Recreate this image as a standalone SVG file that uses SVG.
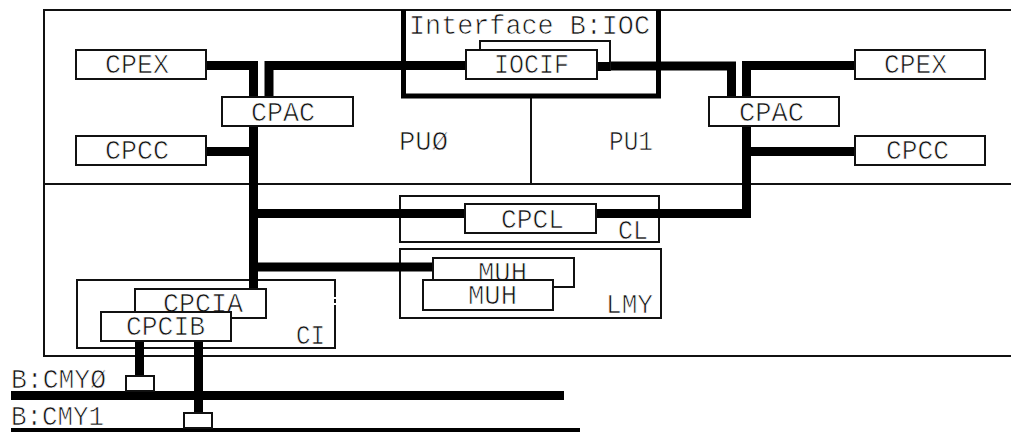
<svg xmlns="http://www.w3.org/2000/svg" width="1011" height="432" viewBox="0 0 1011 432">
<style>
.frame{fill:none;stroke:#111;stroke-width:2}
.box{fill:#fff;stroke:#111;stroke-width:2}
.bus{fill:none;stroke:#000;stroke-width:9;stroke-linejoin:miter}
.thick{fill:none;stroke:#000;stroke-width:5}
text{font-family:"Liberation Mono","DejaVu Sans Mono",monospace;font-size:27px;fill:#111;stroke:#fff;stroke-width:0.7px;paint-order:fill}
</style>
<rect width="1011" height="432" fill="#fff"/>
<g id="frame">
<path class="frame" d="M1012,10 H44 V356 H1012"/>
<path class="frame" d="M44,184 H1012"/>
<path class="frame" d="M531,97 V184"/>
</g>
<g id="interface">
<path class="thick" d="M403.5,10 V96 H658.5 V10"/>
<text x="409" y="34" textLength="241" lengthAdjust="spacingAndGlyphs">Interface B:IOC</text>
</g>
<g id="pu-labels">
<text x="399" y="150" textLength="49" lengthAdjust="spacingAndGlyphs">PUØ</text>
<text x="609" y="150" textLength="44" lengthAdjust="spacingAndGlyphs">PU1</text>
</g>
<g id="cl-group">
<rect class="frame" x="400" y="196" width="259" height="46"/>
<text x="618" y="239" textLength="30" lengthAdjust="spacingAndGlyphs">CL</text>
</g>
<g id="lmy-group">
<rect class="frame" x="400" y="249" width="261" height="69"/>
<text x="606" y="313" textLength="47" lengthAdjust="spacingAndGlyphs">LMY</text>
</g>
<g id="ci-group">
<path class="frame" d="M335,293 V280 H77 V348 H335 V307"/>
<path class="frame" d="M335,293 V307" stroke-dasharray="4,2"/>
<text x="296" y="344" textLength="29" lengthAdjust="spacingAndGlyphs">CI</text>
</g>
<g id="connectors">
<path class="bus" d="M206,65.5 H253.5 V97"/>
<path class="bus" d="M269,97 V65.5 H466"/>
<path class="bus" d="M253.5,126 V289"/>
<path class="bus" d="M206,151.5 H253.5"/>
<path class="bus" d="M253.5,213.5 H465"/>
<path class="bus" d="M253.5,267 H433"/>
<path class="bus" d="M597,66 H731.5 V97"/>
<path class="bus" d="M746.5,97 V65.5 H855"/>
<path class="bus" d="M746.5,126 V213.5 H596"/>
<path class="bus" d="M746.5,151.5 H855"/>
<path class="bus" d="M139.5,341 V376"/>
<path class="bus" d="M198.5,341 V413"/>
<path class="bus" d="M11,395.5 H564"/>
<path class="bus" d="M11,432.5 H580"/>
</g>
<g id="iocif">
<rect class="box" x="480" y="41" width="130" height="29"/>
<path d="M597,62 H610 V71 H597 Z" fill="#000"/>
<rect class="box" x="466" y="50" width="131" height="29"/>
<text x="494" y="73" textLength="75" lengthAdjust="spacingAndGlyphs">IOCIF</text>
</g>
<g id="cpex-l">
<rect class="box" x="76" y="50" width="130" height="29"/>
<text x="105" y="73" textLength="64" lengthAdjust="spacingAndGlyphs">CPEX</text>
</g>
<g id="cpcc-l">
<rect class="box" x="76" y="136" width="130" height="29"/>
<text x="105" y="159" textLength="64" lengthAdjust="spacingAndGlyphs">CPCC</text>
</g>
<g id="cpac-l">
<rect class="box" x="222" y="97" width="131" height="29"/>
<text x="251" y="121" textLength="64" lengthAdjust="spacingAndGlyphs">CPAC</text>
</g>
<g id="cpex-r">
<rect class="box" x="855" y="50" width="130" height="29"/>
<text x="884" y="73" textLength="63" lengthAdjust="spacingAndGlyphs">CPEX</text>
</g>
<g id="cpac-r">
<rect class="box" x="709" y="97" width="130" height="29"/>
<text x="739" y="121" textLength="65" lengthAdjust="spacingAndGlyphs">CPAC</text>
</g>
<g id="cpcc-r">
<rect class="box" x="855" y="136" width="130" height="29"/>
<text x="886" y="159" textLength="63" lengthAdjust="spacingAndGlyphs">CPCC</text>
</g>
<g id="cpcl">
<rect class="box" x="465" y="204" width="131" height="29"/>
<text x="501" y="228" textLength="63" lengthAdjust="spacingAndGlyphs">CPCL</text>
</g>
<g id="muh-back">
<rect class="box" x="433" y="258" width="141" height="29"/>
<text x="478" y="281" textLength="49" lengthAdjust="spacingAndGlyphs">MUH</text>
</g>
<g id="muh-front">
<rect class="box" x="423" y="280" width="130" height="30"/>
<text x="468" y="304" textLength="49" lengthAdjust="spacingAndGlyphs">MUH</text>
</g>
<g id="cpcia">
<rect class="box" x="135" y="289" width="131" height="29"/>
<text x="163" y="312" textLength="80" lengthAdjust="spacingAndGlyphs">CPCIA</text>
</g>
<g id="cpcib">
<rect class="box" x="101" y="312" width="130" height="29"/>
<text x="126" y="335" textLength="79" lengthAdjust="spacingAndGlyphs">CPCIB</text>
</g>
<g id="tap0">
<rect class="box" x="126" y="376" width="28" height="15"/>
</g>
<g id="tap1">
<rect class="box" x="184" y="413" width="28" height="15"/>
</g>
<g id="bus-labels">
<text x="11" y="388" textLength="95" lengthAdjust="spacingAndGlyphs">B:CMYØ</text>
<text x="11" y="425" textLength="93" lengthAdjust="spacingAndGlyphs">B:CMY1</text>
</g>
</svg>
